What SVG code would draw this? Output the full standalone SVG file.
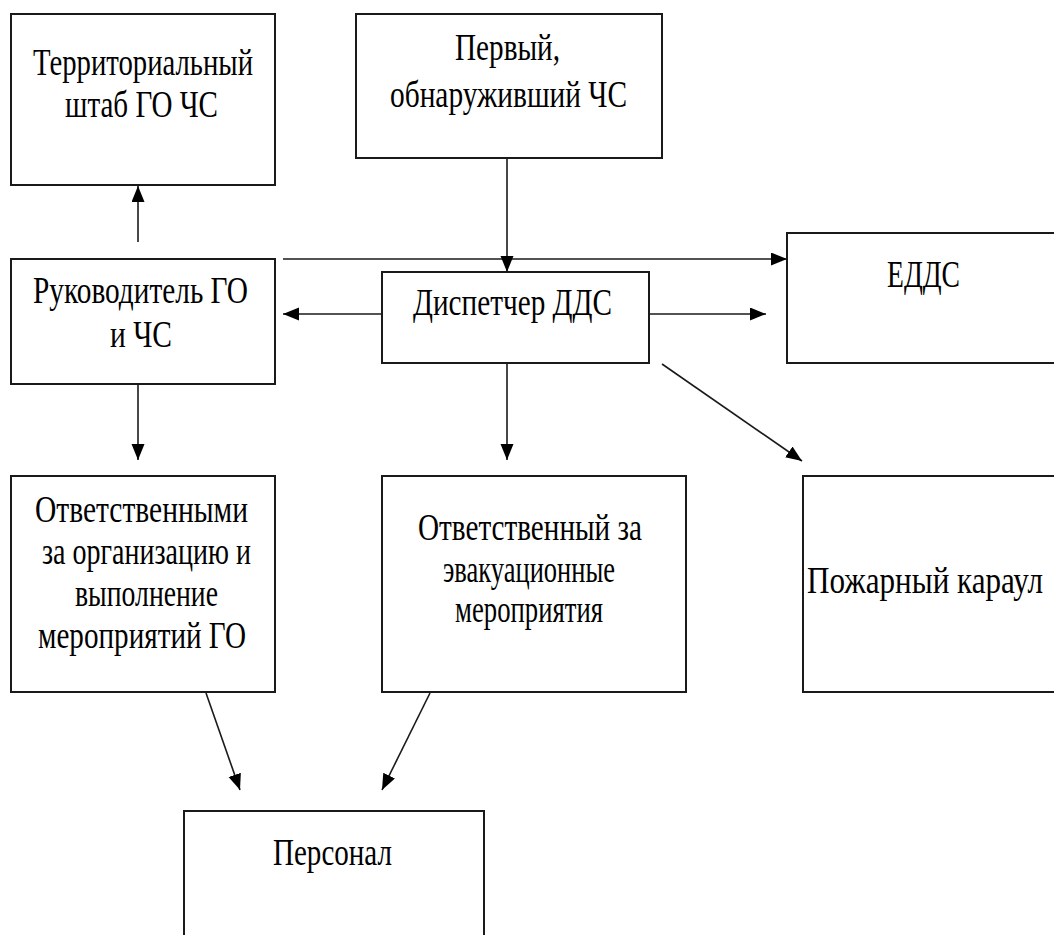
<svg xmlns="http://www.w3.org/2000/svg" width="1054" height="935" viewBox="0 0 1054 935">
<style>
.box{fill:#fff;stroke:#1a1a1a;stroke-width:2}
.t{font-family:"Liberation Serif","Times New Roman",serif;font-size:38px;fill:#000}
.c{stroke:#1a1a1a;stroke-width:1.6;fill:none;marker-end:url(#ah)}
</style>
<defs>
<marker id="ah" markerUnits="userSpaceOnUse" markerWidth="18" markerHeight="14" refX="16" refY="6.5" orient="auto">
<path d="M0,0 L16,6.5 L0,13 Z" fill="#000"/>
</marker>
</defs>
<rect width="1054" height="935" fill="#fff"/>
<g id="connectors">
<line class="c" x1="138" y1="242" x2="138" y2="186"/>
<line class="c" x1="283" y1="259" x2="787" y2="259"/>
<line class="c" x1="507" y1="158" x2="507" y2="272"/>
<line class="c" x1="382" y1="314" x2="283" y2="314"/>
<line class="c" x1="650" y1="314" x2="766" y2="314"/>
<line class="c" x1="507" y1="363" x2="507" y2="460"/>
<line class="c" x1="662" y1="364" x2="802" y2="461"/>
<line class="c" x1="138" y1="384" x2="138" y2="460"/>
<line class="c" x1="206" y1="693" x2="240" y2="790"/>
<line class="c" x1="430" y1="693" x2="382" y2="790"/>
</g>
<g id="n-terr">
<rect class="box" x="11" y="14" width="264" height="171"/>
<text class="t" x="33" y="75" textLength="220" lengthAdjust="spacingAndGlyphs">Территориальный</text>
<text class="t" x="65" y="117" textLength="153" lengthAdjust="spacingAndGlyphs">штаб ГО ЧС</text>
</g>
<g id="n-first">
<rect class="box" x="356" y="14" width="306" height="144"/>
<text class="t" x="455" y="60" textLength="105" lengthAdjust="spacingAndGlyphs">Первый,</text>
<text class="t" x="390" y="107" textLength="237" lengthAdjust="spacingAndGlyphs">обнаруживший ЧС</text>
</g>
<g id="n-ruk">
<rect class="box" x="11" y="259" width="264" height="125"/>
<text class="t" x="33" y="303" textLength="215" lengthAdjust="spacingAndGlyphs">Руководитель ГО</text>
<text class="t" x="110" y="347" textLength="62" lengthAdjust="spacingAndGlyphs">и ЧС</text>
</g>
<g id="n-disp">
<rect class="box" x="382" y="272" width="267" height="91"/>
<text class="t" x="413" y="315" textLength="199" lengthAdjust="spacingAndGlyphs">Диспетчер ДДС</text>
</g>
<g id="n-edds">
<rect class="box" x="787" y="233" width="280" height="130"/>
<text class="t" x="887" y="287" textLength="73" lengthAdjust="spacingAndGlyphs">ЕДДС</text>
</g>
<g id="n-otv1">
<rect class="box" x="11" y="476" width="264" height="216"/>
<text class="t" x="35" y="522" textLength="213" lengthAdjust="spacingAndGlyphs">Ответственными</text>
<text class="t" x="42" y="564" textLength="209" lengthAdjust="spacingAndGlyphs">за организацию и</text>
<text class="t" x="75" y="606" textLength="143" lengthAdjust="spacingAndGlyphs">выполнение</text>
<text class="t" x="38" y="648" textLength="208" lengthAdjust="spacingAndGlyphs">мероприятий ГО</text>
</g>
<g id="n-otv2">
<rect class="box" x="382" y="476" width="304" height="216"/>
<text class="t" x="418" y="540" textLength="224" lengthAdjust="spacingAndGlyphs">Ответственный за</text>
<text class="t" x="443" y="582" textLength="172" lengthAdjust="spacingAndGlyphs">эвакуационные</text>
<text class="t" x="455" y="622" textLength="148" lengthAdjust="spacingAndGlyphs">мероприятия</text>
</g>
<g id="n-fire">
<rect class="box" x="803" y="476" width="270" height="216"/>
<text class="t" style="font-size:31px" transform="translate(807,593) scale(1,1.225)" x="0" y="0" textLength="236" lengthAdjust="spacingAndGlyphs">Пожарный караул</text>
</g>
<g id="n-pers">
<rect class="box" x="184" y="811" width="300" height="140"/>
<text class="t" x="273" y="865" textLength="119" lengthAdjust="spacingAndGlyphs">Персонал</text>
</g>
</svg>
